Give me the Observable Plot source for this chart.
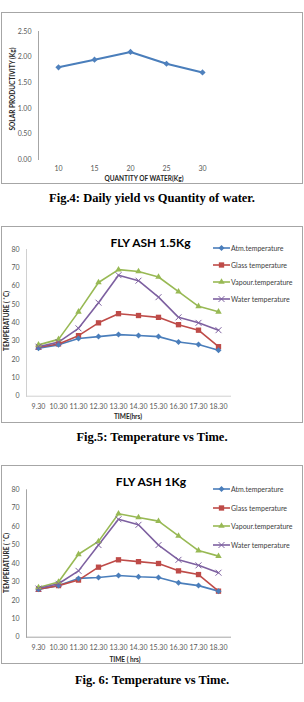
<!DOCTYPE html>
<html>
<head>
<meta charset="utf-8">
<script src="https://cdn.jsdelivr.net/npm/d3@7"></script>
<script src="https://cdn.jsdelivr.net/npm/@observablehq/plot@0.6"></script>
<style>
  html, body { margin: 0; padding: 0; background: #fff; }
  #page { position: relative; width: 304px; height: 702px; overflow: hidden; font-family: Lato, "Open Sans", sans-serif; }
  .panel { position: absolute; left: 1px; width: 302px; border: 1px solid #a6a6a6; box-sizing: border-box; background: #fff; }
  .panel svg { position: absolute; left: 0; top: 0; overflow: visible; }
  .abs { position: absolute; white-space: nowrap; }
  .cap { position: absolute; left: 0; width: 304px; text-align: center; font: bold 12.5px "Liberation Serif", serif; color: #000; line-height: 16px; }
  .ctitle { font-weight: bold; font-size: 12px; color: #000; line-height: 14px; transform: translate(-50%, -50%); }
  .axlab { font-weight: bold; font-size: 6.5px; color: #262626; line-height: 8px; transform: translate(-50%, -50%); }
  .ylab { transform: translate(-50%, -50%) rotate(-90deg); }
  .legrow { position: absolute; left: 213px; height: 8px; display: flex; align-items: center; white-space: nowrap; font-size: 7px; color: #404040; }
  .legrow svg { display: block; margin-right: 1px; }
</style>
</head>
<body>
<div id="page"></div>
<script>
// Fig.4: daily yield against quantity of water
const qtyWater = [10, 15, 20, 25, 30];
const solarProductivity = [1.80, 1.95, 2.10, 1.87, 1.70];
const yieldTicks = [0, 0.5, 1, 1.5, 2, 2.5];

// Fig.5 / Fig.6: temperatures over the day
const hours = ["9.30", "10.30", "11.30", "12.30", "13.30", "14.30", "15.30", "16.30", "17.30", "18.30"];
const tempTicks = [0, 10, 20, 30, 40, 50, 60, 70, 80];
const seriesNames = ["Atm.temperature", "Glass temperature", "Vapour.temperature", "Water temperature"];

// FLY ASH 1.5Kg
const ash15Atm    = [26.2, 28, 31.5, 32.5, 33.6, 33.1, 32.5, 29.6, 28.2, 25];
const ash15Glass  = [26.7, 28.5, 33, 40, 45, 44, 43, 39, 36, 27];
const ash15Vapour = [28, 31, 46, 62, 69, 68, 65, 57, 49, 46];
const ash15Water  = [27, 29.5, 37, 51, 66, 63, 54, 43, 40, 36];

// FLY ASH 1Kg
const ash1Atm    = [26, 28, 31.9, 32.4, 33.5, 32.8, 32.4, 29.5, 28, 25];
const ash1Glass  = [26, 28, 31, 38, 42, 41, 40, 36, 34, 25];
const ash1Vapour = [27, 30, 45, 52, 67, 65, 63, 55, 47, 44];
const ash1Water  = [26.4, 29, 36, 50, 64, 61, 50, 42, 39, 35];

const seriesColors = ["#4A7EBB", "#BE4B48", "#98B954", "#7D60A0"];
const seriesSymbols = ["diamond2", "square", "triangle", "times"];
const symbolR = [2.7, 3.0, 2.4, 2.8];

const page = document.getElementById("page");

function addPanel(top, height) {
  const p = document.createElement("div");
  p.className = "panel";
  p.style.top = top + "px";
  p.style.height = height + "px";
  page.appendChild(p);
  return p;
}

function addText(cls, text, x, y) {
  const d = document.createElement("div");
  d.className = "abs " + cls;
  d.style.left = x + "px";
  d.style.top = y + "px";
  d.textContent = text;
  page.appendChild(d);
  return d;
}

function addCaption(text, cy) {
  const d = document.createElement("div");
  d.className = "cap";
  d.style.top = (cy - 8) + "px";
  d.textContent = text;
  page.appendChild(d);
}

const tickStyle = {
  fontFamily: "Lato, 'Open Sans', sans-serif",
  fontSize: "7px",
  color: "#595959",
  background: "transparent",
  overflow: "visible"
};

// ---- Fig.4 ----
{
  const panel = addPanel(12, 172);
  const rows = qtyWater.map((q, i) => ({qty: q, kg: solarProductivity[i]}));
  const chart = Plot.plot({
    width: 300, height: 170,
    marginLeft: 36, marginRight: 80, marginTop: 18, marginBottom: 24,
    style: tickStyle,
    x: {type: "point", domain: qtyWater, padding: 0.5, label: null, tickSize: 0, tickPadding: 7},
    y: {domain: [0, 2.5], ticks: yieldTicks, tickFormat: d3.format(".2f"), label: null, tickSize: 0, tickPadding: 7},
    marks: [
      Plot.frame({anchor: "left", stroke: "#a6a6a6"}),
      Plot.line(rows, {x: "qty", y: "kg", stroke: "#4A7EBB", strokeWidth: 2}),
      Plot.dot(rows, {x: "qty", y: "kg", symbol: "diamond2", fill: "#4F81BD", stroke: "none", r: 2.8})
    ]
  });
  panel.appendChild(chart);
  addText("axlab", "QUANTITY OF WATER(Kg)", 144, 179);
  addText("axlab ylab", "SOLAR PRODUCTIVITY (Kg)", 12.5, 89);
  addCaption("Fig.4: Daily yield vs Quantity of water.", 198);
}

// ---- temperature charts ----
function tempChart(opts) {
  const panel = addPanel(opts.top, opts.height);
  const sets = opts.series;
  const rows = [];
  seriesNames.forEach((s, i) => hours.forEach((h, j) => rows.push({time: h, temp: sets[i][j], series: s})));
  const filled = rows.filter(d => d.series !== "Water temperature");
  const crosses = rows.filter(d => d.series === "Water temperature");
  const chart = Plot.plot({
    width: 300, height: opts.height - 2,
    marginLeft: 24, marginRight: 72, marginTop: opts.mt, marginBottom: opts.mb,
    style: tickStyle,
    x: {type: "point", domain: hours, padding: 0.5, label: null, tickSize: 0, tickPadding: opts.xpad},
    y: {domain: [0, 80], ticks: tempTicks, label: null, tickSize: 0, tickPadding: 7},
    color: {domain: seriesNames, range: seriesColors},
    symbol: {domain: seriesNames, range: seriesSymbols},
    r: {type: "identity"},
    marks: [
      Plot.frame({anchor: "left", stroke: opts.axisColor}),
      Plot.frame({anchor: "bottom", stroke: opts.axisColor}),
      Plot.line(rows, {x: "time", y: "temp", z: "series", stroke: "series", strokeWidth: 1.6}),
      Plot.dot(filled, {x: "time", y: "temp", symbol: "series", fill: "series", stroke: "none",
        r: d => symbolR[seriesNames.indexOf(d.series)]}),
      Plot.dot(crosses, {x: "time", y: "temp", symbol: "series", fill: "none", stroke: "series", strokeWidth: 1, r: symbolR[3]})
    ]
  });
  panel.appendChild(chart);

  addText("ctitle", opts.title, opts.titleX, opts.titleY);
  addText("axlab", opts.xLabel, opts.xLabelX, opts.xLabelY);
  addText("axlab ylab", "TEMPERATURE ( \u02DAC)", 7, opts.yLabelY);

  // legend: line + marker + name
  seriesNames.forEach((s, i) => {
    const row = document.createElement("div");
    row.className = "legrow";
    row.style.top = (opts.legendY[i] - 4) + "px";
    const svg = d3.create("svg").attr("width", 17).attr("height", 8);
    svg.append("line").attr("x1", 0).attr("x2", 17).attr("y1", 4).attr("y2", 4)
      .attr("stroke", seriesColors[i]).attr("stroke-width", 1.6);
    const symType = [d3.symbolDiamond2, d3.symbolSquare, d3.symbolTriangle, d3.symbolTimes][i];
    const path = svg.append("path")
      .attr("transform", "translate(8.5,4)")
      .attr("d", d3.symbol(symType, symbolR[i] * symbolR[i] * Math.PI)());
    if (i === 3) path.attr("fill", "none").attr("stroke", seriesColors[i]).attr("stroke-width", 1);
    else path.attr("fill", seriesColors[i]);
    row.appendChild(svg.node());
    const span = document.createElement("span");
    span.textContent = s;
    row.appendChild(span);
    page.appendChild(row);
  });

  addCaption(opts.caption, opts.captionY);
}

tempChart({
  top: 226, height: 197, mt: 22, mb: 26.3, xpad: 7.5, axisColor: "#d0d0d0",
  series: [ash15Atm, ash15Glass, ash15Vapour, ash15Water],
  title: "FLY ASH 1.5Kg", titleX: 150.5, titleY: 242.5,
  xLabel: "TIME(hrs)", xLabelX: 128, xLabelY: 416.5,
  yLabelY: 321,
  legendY: [248, 265, 282, 299],
  caption: "Fig.5: Temperature vs Time.", captionY: 437
});

tempChart({
  top: 465, height: 199, mt: 23.3, mb: 26.3, xpad: 8, axisColor: "#a6a6a6",
  series: [ash1Atm, ash1Glass, ash1Vapour, ash1Water],
  title: "FLY ASH 1Kg", titleX: 151, titleY: 482,
  xLabel: "TIME ( hrs)", xLabelX: 125, xLabelY: 660,
  yLabelY: 563,
  legendY: [488.5, 507.5, 526, 544.5],
  caption: "Fig. 6: Temperature vs Time.", captionY: 680
});
</script>
</body>
</html>
